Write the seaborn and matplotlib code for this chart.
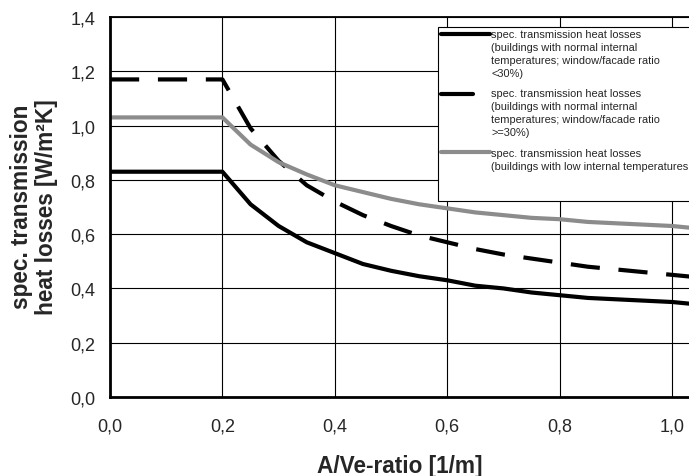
import pandas as pd
import matplotlib.pyplot as plt
import seaborn as sns
from matplotlib.lines import Line2D
from matplotlib.patches import Rectangle
from matplotlib.ticker import FuncFormatter

# A/Ve-ratio [1/m]
av_ratio = [0.0, 0.2, 0.25, 0.3, 0.35, 0.4, 0.45, 0.5, 0.55, 0.6, 0.65,
            0.7, 0.75, 0.8, 0.85, 0.9, 0.95, 1.0, 1.05]

# spec. transmission heat losses [W/m2K]
normal_below_30 = [0.83, 0.83, 0.71, 0.63, 0.57, 0.53, 0.49, 0.465, 0.445, 0.43, 0.41,
                   0.40, 0.385, 0.375, 0.365, 0.36, 0.355, 0.35, 0.34]
normal_above_30 = [1.17, 1.17, 0.99, 0.87, 0.78, 0.72, 0.67, 0.63, 0.595, 0.57, 0.545,
                   0.525, 0.51, 0.495, 0.48, 0.47, 0.46, 0.45, 0.44]
low_internal = [1.03, 1.03, 0.93, 0.865, 0.82, 0.78, 0.755, 0.73, 0.71, 0.695, 0.68,
                0.67, 0.66, 0.655, 0.645, 0.64, 0.635, 0.63, 0.62]

# the last label runs into the right edge in the original, no closing bracket shown
legend_labels = [
    "spec. transmission heat losses\n(buildings with normal internal\n"
    "temperatures; window/facade ratio\n<30%)",
    "spec. transmission heat losses\n(buildings with normal internal\n"
    "temperatures; window/facade ratio\n>=30%)",
    "spec. transmission heat losses\n(buildings with low internal temperatures",
]

W, H = 689, 477


def fx(px):
    return px / W


def fy(py):
    return 1 - py / H


def main():
    sns.set_style("white")
    plt.rcParams["font.family"] = ["Liberation Sans", "DejaVu Sans"]

    df = pd.DataFrame({
        "x": av_ratio,
        "below": normal_below_30,
        "above": normal_above_30,
        "low": low_internal,
    })

    fig = plt.figure(figsize=(6.89, 4.77), dpi=100)
    ax = fig.add_axes([fx(110), fy(398), fx(689) - fx(110), fy(18) - fy(398)])

    dash = (0, (7, 4.5))
    sns.lineplot(data=df, x="x", y="below", ax=ax, color="black", linewidth=3)
    sns.lineplot(data=df, x="x", y="above", ax=ax, color="black", linewidth=3,
                 linestyle=dash)
    sns.lineplot(data=df, x="x", y="low", ax=ax, color="#8c8c8c", linewidth=3)

    ax.set_xlim(0, 1.03)
    ax.set_ylim(0, 1.4)
    ax.set_xticks([0, 0.2, 0.4, 0.6, 0.8, 1.0])
    ax.set_yticks([0, 0.2, 0.4, 0.6, 0.8, 1.0, 1.2, 1.4])
    comma = FuncFormatter(lambda v, p: f"{v:.1f}".replace(".", ","))
    ax.xaxis.set_major_formatter(comma)
    ax.yaxis.set_major_formatter(comma)
    ax.tick_params(axis="x", length=0, pad=14.5, labelsize=13)
    ax.tick_params(axis="y", length=0, pad=10.5, labelsize=13)
    ax.grid(True, color="black", linewidth=0.8)
    ax.set_axisbelow(True)

    for side in ["left", "bottom"]:
        ax.spines[side].set_linewidth(2)
        ax.spines[side].set_color("black")
    ax.spines["top"].set_linewidth(1.3)
    ax.spines["top"].set_color("black")
    ax.spines["right"].set_visible(False)

    ax.set_xlabel("")
    ax.set_ylabel("")
    fig.text(fx(400), fy(473), "A/Ve-ratio [1/m]", fontsize=16.3,
             fontweight="bold", ha="center", va="baseline")
    fig.text(fx(34), fy(207), "spec. transmission\nheat losses [W/m²K]",
             fontsize=16.3, fontweight="bold", rotation=90, ha="center",
             va="center", linespacing=1.12)

    # legend box drawn by hand so the keys sit on the first text line
    box = Rectangle((fx(438), fy(202)), fx(700) - fx(438), fy(28) - fy(202),
                    transform=fig.transFigure, facecolor="white",
                    edgecolor="black", linewidth=0.8, zorder=5)
    fig.add_artist(box)
    keys = [
        (35, 490, dict(color="black", linewidth=3)),
        (95, 473, dict(color="black", linewidth=3)),
        (153, 490, dict(color="#8c8c8c", linewidth=3)),
    ]
    tops = [30, 89, 149]
    for (ky, kx2, style), top, label in zip(keys, tops, legend_labels):
        fig.add_artist(Line2D([fx(441), fx(kx2)], [fy(ky), fy(ky)],
                              transform=fig.transFigure, zorder=6, **style))
        fig.text(fx(491), fy(top), label, fontsize=7.9, va="top", ha="left",
                 linespacing=1.36, zorder=6)

    fig.savefig("out.png", dpi=100)


if __name__ == "__main__":
    main()
